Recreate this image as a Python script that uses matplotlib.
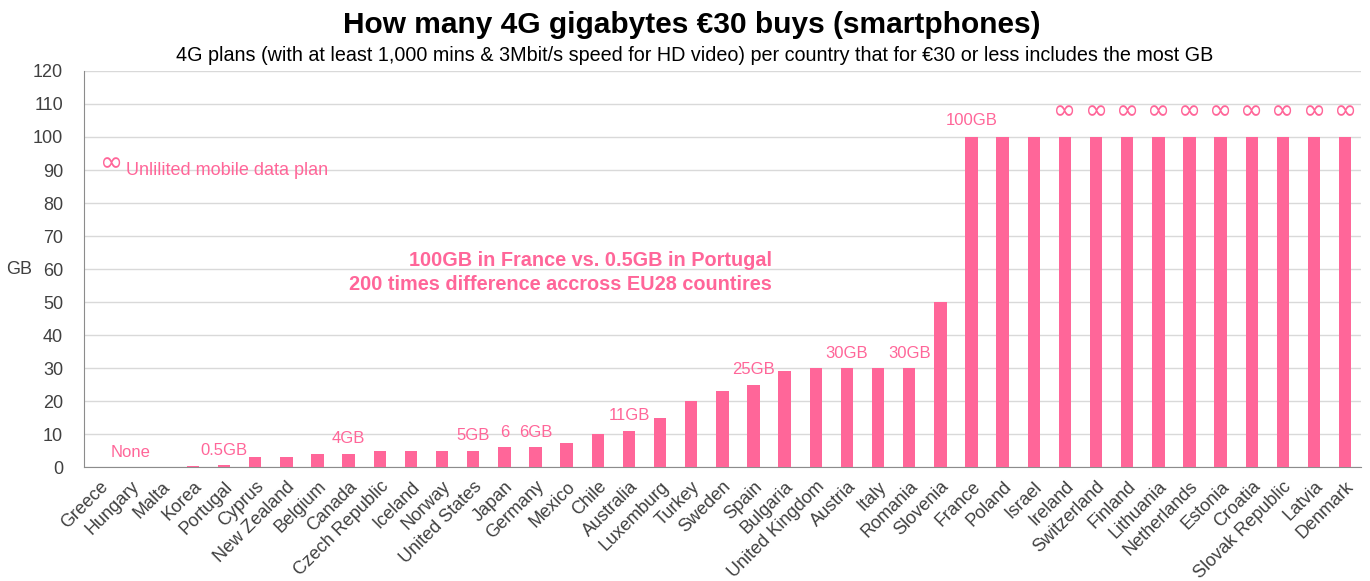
import matplotlib
matplotlib.use("Agg")
import matplotlib.pyplot as plt

countries = ["Greece", "Hungary", "Malta", "Korea", "Portugal", "Cyprus", "New Zealand",
             "Belgium", "Canada", "Czech Republic", "Iceland", "Norway", "United States",
             "Japan", "Germany", "Mexico", "Chile", "Australia", "Luxemburg", "Turkey",
             "Sweden", "Spain", "Bulgaria", "United Kingdom", "Austria", "Italy", "Romania",
             "Slovenia", "France", "Poland", "Israel", "Ireland", "Switzerland", "Finland",
             "Lithuania", "Netherlands", "Estonia", "Croatia", "Slovak Republic", "Latvia",
             "Denmark"]
gb = [0, 0, 0, 0.3, 0.5, 3, 3, 4, 4, 5, 5, 5, 5, 6, 6, 7.2, 10, 11, 15, 20, 23, 25, 29,
      30, 30, 30, 30, 50, 100, 100, 100, 100, 100, 100, 100, 100, 100, 100, 100, 100, 100]
unlimited = ["Ireland", "Switzerland", "Finland", "Lithuania", "Netherlands", "Estonia",
             "Croatia", "Slovak Republic", "Latvia", "Denmark"]
labels = {"Hungary": "None", "Portugal": "0.5GB", "Canada": "4GB", "United States": "5GB",
          "Japan": "6", "Germany": "6GB", "Australia": "11GB", "Spain": "25GB",
          "Austria": "30GB", "Romania": "30GB", "France": "100GB"}

PINK = "#FF6699"
plt.rcParams["font.family"] = ["Liberation Sans", "DejaVu Sans"]

fig = plt.figure(figsize=(13.7, 5.81), dpi=100)
ax = fig.add_axes([0.0613, 0.1962, 0.932, 0.6816])
x = range(len(countries))
ax.bar(x, gb, width=0.4, color=PINK, zorder=3)
ax.set_xlim(-0.5, len(countries) - 0.5)
ax.set_ylim(0, 120)
ax.set_yticks(range(0, 121, 10))
ax.tick_params(axis="y", labelsize=13, colors="#404040", length=0, pad=15)
ax.set_xticks(list(x))
ax.set_xticklabels(countries, rotation=45, ha="right", rotation_mode="anchor",
                   fontsize=13, color="#404040")
ax.tick_params(axis="x", length=0, pad=8)
ax.grid(axis="y", color="#D9D9D9", linewidth=1, zorder=0)
for s in ["top", "right"]:
    ax.spines[s].set_visible(False)
ax.spines["left"].set_color("#8C8C8C")
ax.spines["bottom"].set_color("#8C8C8C")
ax.set_ylabel("GB", rotation=0, fontsize=13, color="#404040", va="center", ha="center")
ax.yaxis.set_label_coords(-0.051, 0.5)

# value labels
for name, txt in labels.items():
    i = countries.index(name)
    yv = gb[i] + 4.5 if gb[i] > 0 else 4.3
    if name == "France":
        yv = 105
    ax.text(i, yv, txt, color=PINK, fontsize=12, ha="center", va="center")
for name in unlimited:
    i = countries.index(name)
    ax.text(i, 107.8, "∞", color=PINK, fontsize=20, ha="center", va="center",
            family=["DejaVu Sans"])

ax.text(0.4, 92, "∞", color=PINK, fontsize=20, ha="center", va="center",
        family=["DejaVu Sans"])
ax.text(0.85, 90, "Unlilited mobile data plan", color=PINK, fontsize=13,
        ha="left", va="center")
ax.text(21.6, 59, "100GB in France vs. 0.5GB in Portugal\n200 times difference accross EU28 countires",
        color=PINK, fontsize=14.3, fontweight="bold", ha="right", va="center",
        multialignment="right", linespacing=1.35)

fig.text(0.505, 0.957, "How many 4G gigabytes €30 buys (smartphones)", fontsize=21.5,
         fontweight="bold", ha="center", va="center")
fig.text(0.507, 0.905, "4G plans (with at least 1,000 mins & 3Mbit/s speed for HD video) per country "
         "that for €30 or less includes the most GB", fontsize=14.2, ha="center", va="center")

fig.savefig("out.png", dpi=100)
